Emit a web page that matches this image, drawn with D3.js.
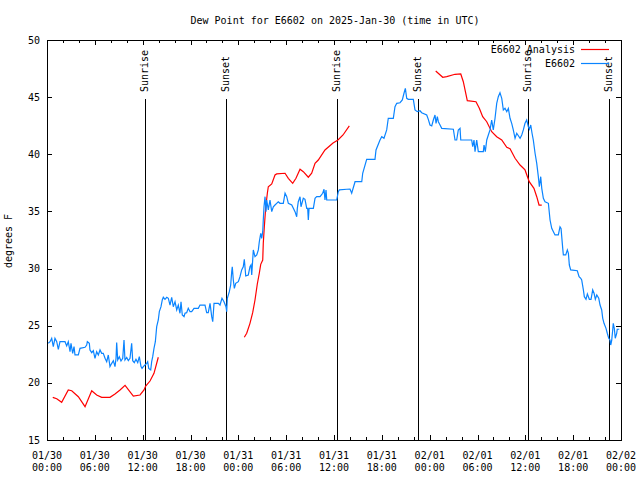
<!DOCTYPE html>
<html><head><meta charset="utf-8">
<script src="https://cdn.jsdelivr.net/npm/d3@7"></script>
<style>
html,body{margin:0;padding:0;background:#fff;}
svg text{font-family:"DejaVu Sans Mono","Liberation Mono",monospace;font-size:10px;fill:#000;}
</style></head>
<body><svg id="c" width="640" height="480"></svg>
<script>
// ---- data (hours after 2025-01-30 00:00 UTC) ----
const startTime = "2025-01-30T00:00:00Z";
const endTime = "2025-02-02T00:00:00Z";
const yTicks = [15,20,25,30,35,40,45,50];
const sunEventHours = [12.35, 22.5, 36.37, 46.5, 60.38, 70.5];
const sunEventLabels = ["Sunrise","Sunset","Sunrise","Sunset","Sunrise","Sunset"];
const seriesNames = ["E6602 Analysis","E6602"];

const analysisHours = [0.72,1.22,1.84,2.67,3.10,3.93,4.77,5.61,6.23,6.86,7.90,8.53,9.16,9.79,10.83,11.67,12.17,12.38,12.92,13.42,13.96,
  19,
  24.75,25.05,25.46,25.80,26.09,26.38,26.63,26.81,27.06,27.13,27.26,27.44,27.64,27.76,28.19,28.60,28.81,29.86,30.27,30.82,31.23,31.74,32.15,32.78,33.20,33.62,34.03,34.87,35.88,36.50,37.13,37.92,
  43,
  48.76,49.64,50.14,51.18,51.90,52.22,52.72,53.81,54.23,54.65,55.16,55.78,56.41,57.04,57.67,58.08,58.71,59.34,59.96,60.49,61.08,61.43,61.72,62.06];
const analysisValues = [18.73,18.61,18.30,19.38,19.31,18.79,17.92,19.31,18.94,18.73,18.73,19.02,19.38,19.78,18.85,18.94,19.38,19.72,20.16,20.83,22.24,
  null,
  23.99,24.34,25.21,26.14,27.25,28.65,29.59,30.37,30.75,32.21,33.66,35.41,36.59,37.16,37.40,38.19,38.28,38.34,37.90,37.46,37.90,38.69,38.48,37.99,38.34,39.21,39.50,40.38,40.99,41.25,41.69,42.48,
  null,
  47.29,46.74,46.79,47.00,47.03,46.35,44.69,44.60,44.02,43.29,42.85,41.98,41.54,41.25,40.61,40.49,39.65,39.06,38.63,37.60,37.02,36.29,35.56,35.56];

const obsHours = [0.16,0.38,0.59,0.79,1.00,1.22,1.42,1.63,2.26,2.47,2.67,2.89,3.01,3.22,3.39,3.51,3.93,4.14,4.77,4.98,
  5.06,5.31,5.39,5.61,5.81,6.02,6.23,6.44,6.65,6.86,7.06,7.28,7.49,7.69,7.90,8.12,8.32,8.53,8.66,8.74,
  8.87,9.07,9.28,9.50,9.66,9.78,10.0,10.2,10.41,10.62,10.75,10.95,11.16,11.38,11.58,11.79,11.92,12.08,12.29,12.51,
  12.63,12.76,13.01,13.13,13.26,13.42,13.59,13.76,13.96,14.09,14.30,14.46,
  14.59,14.80,15.02,15.22,15.43,15.64,15.84,16.06,16.27,16.47,16.68,16.81,16.97,17.19,17.31,17.52,17.72,17.94,18.15,18.44,
  18.98,19.19,19.82,20.03,20.23,20.45,20.66,20.79,20.95,21.49,21.70,21.95,22.20,22.45,22.54,22.62,22.87,23.04,23.17,23.24,
  23.37,23.50,23.67,24.00,24.21,24.42,24.62,24.75,24.93,25.25,25.46,25.59,25.68,25.80,25.88,26.09,26.31,26.51,26.63,26.81,
  26.93,27.06,27.13,27.22,27.35,27.47,27.56,27.76,27.97,28.19,28.39,28.60,28.81,29.01,29.23,29.64,29.86,30.07,30.27,30.70,
  31.11,31.32,31.40,31.52,31.74,31.86,32.15,32.36,32.58,32.70,32.78,32.87,33.41,33.62,33.83,34.25,34.58,34.75,34.87,35.00,
  35.09,36.34,36.54,36.67,37.59,38.01,38.22,38.64,39.48,39.60,40.10,41.14,41.27,41.77,41.99,42.27,42.61,42.81,43.44,43.65,
  43.87,44.28,44.57,44.78,44.95,45.12,45.32,45.95,46.16,46.45,46.79,47.00,47.63,47.83,48.04,48.26,48.46,48.67,48.80,48.96,
  49.09,49.30,49.51,50.97,51.18,51.39,51.59,51.81,51.90,52.15,53.27,53.40,53.56,53.69,53.90,54.10,54.73,54.82,54.98,55.16,
  55.36,55.57,55.78,55.98,56.20,56.41,56.61,56.82,57.04,57.24,57.45,57.67,57.87,58.08,58.29,58.49,58.71,58.92,59.34,59.55,
  59.75,59.96,60.17,60.38,60.51,60.68,60.84,61.00,61.22,61.43,61.63,61.76,61.93,62.06,62.26,62.47,62.89,63.10,63.31,63.72,
  64.14,64.35,64.48,64.69,64.77,65.07,65.27,65.40,65.52,65.69,66.52,66.74,66.95,67.07,67.28,67.40,67.61,67.78,68.03,68.24,
  68.45,68.62,68.78,68.96,69.21,69.37,69.58,69.71,69.87,70.12,70.28,70.46,70.62,70.71,70.83,70.96,71.03,71.16,71.28,71.46,
  71.53,71.78];
const obsValues = [23.46,23.6,23.9,23.17,23.9,23.6,22.93,23.6,23.6,23.23,23.6,22.73,23.46,22.58,23.17,22.44,22.44,23.02,23.11,23.31,
  23.6,23.46,22.88,22.64,22.82,22.15,22.73,22.44,22.88,22.58,22.58,22.15,21.85,22.44,21.42,21.71,21.94,21.42,22.15,23.52,
  22.0,22.29,21.91,22.15,23.75,22.0,22.23,21.94,22.15,23.46,21.94,21.77,22.06,21.77,22.29,21.42,21.27,21.42,21.56,21.71,
  21.85,21.27,21.13,21.85,22.29,23.02,23.6,24.92,25.5,26.23,26.67,27.25,
  27.49,27.31,27.49,27.40,26.81,27.49,26.66,27.10,26.38,26.81,26.09,27.10,25.94,25.79,26.09,26.14,26.52,26.23,26.23,26.52,
  26.52,26.81,26.81,26.14,26.14,26.96,25.79,25.35,26.96,26.96,26.81,27.40,27.10,26.66,26.23,27.40,27.98,28.56,29.73,30.16,
  29.00,28.27,28.71,28.85,29.29,29.88,30.16,30.81,29.35,29.44,30.16,30.31,29.44,30.75,31.63,31.04,31.19,31.63,32.35,33.09,
  32.65,33.23,34.25,35.41,36.29,34.98,36.00,35.13,36.00,34.98,35.41,35.56,35.71,35.85,35.71,35.71,36.59,36.29,35.71,35.56,
  34.98,34.54,35.27,35.85,36.29,35.41,36.15,36.06,35.27,35.27,34.25,35.27,35.27,36.15,36.29,36.29,36.59,36.94,36.00,36.88,
  36.00,36.00,36.73,36.88,36.94,36.96,36.59,37.60,37.60,38.34,39.56,39.56,40.38,41.25,41.54,41.40,42.13,43.15,43.15,44.16,
  44.46,44.51,44.75,45.34,45.77,44.90,44.81,44.81,43.88,43.73,43.81,43.64,43.44,43.06,42.56,42.48,43.00,43.44,42.71,43.29,
  42.85,42.56,42.27,42.19,41.25,41.25,42.13,42.27,41.25,41.25,41.25,40.66,41.25,40.23,41.25,40.23,40.23,40.81,40.23,41.25,
  41.69,42.13,43.00,42.13,43.15,44.46,45.04,45.39,44.90,43.88,44.02,43.73,44.02,43.15,42.71,42.13,41.40,41.84,41.40,41.69,
  42.13,42.71,43.00,42.41,42.19,42.56,41.84,41.25,40.09,39.21,38.04,37.16,38.04,37.02,36.15,35.85,35.71,34.25,33.52,32.94,
  32.94,33.66,33.52,31.77,31.19,31.19,31.63,31.34,30.31,29.88,29.81,29.29,29.15,29.00,28.13,27.54,27.31,27.78,27.31,27.31,
  28.13,27.84,27.31,27.69,27.40,26.81,26.38,25.65,25.21,24.77,24.34,23.90,23.75,23.31,23.69,24.63,25.21,24.77,23.90,24.34,
  24.69,24.69];

// ---- layout ----
const X0 = 47, X1 = 621, Y0 = 40, Y1 = 440;
const t0 = new Date(startTime).getTime();
const toDate = h => new Date(t0 + h * 3600e3);

const svg = d3.select("#c");
const x = d3.scaleUtc().domain([new Date(startTime), new Date(endTime)]).range([X0, X1]);
const y = d3.scaleLinear().domain([15, 50]).range([Y1, Y0]);

svg.append("rect").attr("width",640).attr("height",480).attr("fill","#fff");

// title
svg.append("text").attr("x", 335).attr("y", 24).attr("text-anchor","middle")
  .text("Dew Point for E6602 on 2025-Jan-30 (time in UTC)");

// y label
svg.append("text").attr("transform","translate(11.5,241) rotate(-90)").attr("text-anchor","middle")
  .text("degrees F");

const majorTicks = d3.utcHour.every(6).range(new Date(startTime), new Date(new Date(endTime).getTime()+1));
const minorTicks = d3.utcHour.every(2).range(new Date(startTime), new Date(new Date(endTime).getTime()+1));

const axes = svg.append("g").attr("shape-rendering","crispEdges").attr("stroke","#000").attr("stroke-width",1);
minorTicks.forEach(d => {
  const px = Math.round(x(d)) + 0.5;
  axes.append("line").attr("x1",px).attr("x2",px).attr("y1",Y1).attr("y2",Y1-3);
  axes.append("line").attr("x1",px).attr("x2",px).attr("y1",Y0).attr("y2",Y0+3);
});
majorTicks.forEach(d => {
  const px = Math.round(x(d)) + 0.5;
  axes.append("line").attr("x1",px).attr("x2",px).attr("y1",Y1).attr("y2",Y1-5);
  axes.append("line").attr("x1",px).attr("x2",px).attr("y1",Y0).attr("y2",Y0+5);
});
yTicks.forEach(v => {
  const py = Math.round(y(v)) + 0.5;
  axes.append("line").attr("x1",X0).attr("x2",X0+5).attr("y1",py).attr("y2",py);
  axes.append("line").attr("x1",X1).attr("x2",X1-5).attr("y1",py).attr("y2",py);
});

// tick labels
const fmtD = d3.utcFormat("%m/%d"), fmtT = d3.utcFormat("%H:%M");
majorTicks.forEach(d => {
  const t = svg.append("text").attr("text-anchor","middle");
  t.append("tspan").attr("x", x(d)).attr("y", 459).text(fmtD(d));
  t.append("tspan").attr("x", x(d)).attr("y", 471).text(fmtT(d));
});
yTicks.forEach(v => {
  svg.append("text").attr("x", 40).attr("y", y(v) + 3.5).attr("text-anchor","end").text(v);
});

// sunrise / sunset
sunEventHours.forEach((h, i) => {
  const px = Math.round(x(toDate(h))) + 0.5;
  svg.append("line").attr("x1",px).attr("x2",px).attr("y1",99).attr("y2",Y1)
    .attr("stroke","#000").attr("stroke-width",1).attr("shape-rendering","crispEdges");
  svg.append("text").attr("transform",`translate(${px+2.5},92) rotate(-90)`).attr("text-anchor","start")
    .text(sunEventLabels[i]);
});

// series
const analysis = analysisHours.map((h,i) => ({t: toDate(h), v: analysisValues[i]}));
const n = Math.min(obsHours.length, obsValues.length);
const obs = d3.range(n).map(i => ({t: toDate(obsHours[i]), v: obsValues[i]}));
const line = d3.line().defined(d => d.v != null).x(d => x(d.t)).y(d => y(d.v));

svg.append("path").datum(analysis).attr("d", line).attr("fill","none")
  .attr("stroke","#ff0000").attr("stroke-width",1.2);
svg.append("path").datum(obs).attr("d", line).attr("fill","none")
  .attr("stroke","#0a84ff").attr("stroke-width",1.2);

// legend
const legColors = ["#ff0000","#0a84ff"];
seriesNames.forEach((s, i) => {
  const ly = 49 + i * 14;
  svg.append("text").attr("x", 575).attr("y", ly + 3.5).attr("text-anchor","end").text(s);
  svg.append("line").attr("x1",581).attr("x2",609).attr("y1",ly+0.5).attr("y2",ly+0.5)
    .attr("stroke",legColors[i]).attr("stroke-width",1.2);
});

// frame
svg.append("rect").attr("x",X0+0.5).attr("y",Y0+0.5).attr("width",X1-X0).attr("height",Y1-Y0)
  .attr("fill","none").attr("stroke","#000").attr("shape-rendering","crispEdges");
</script></body></html>
